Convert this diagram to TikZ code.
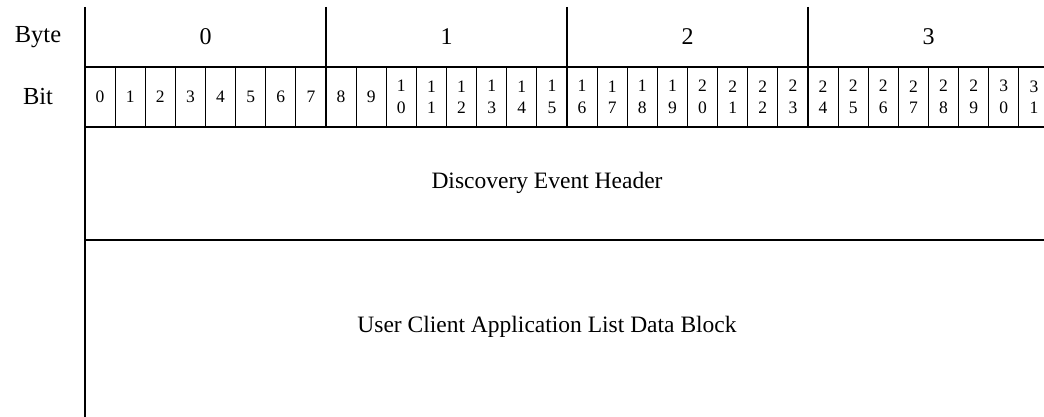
\documentclass[tikz,border=0pt]{standalone}
\usepackage{fontspec}
\setmainfont{Liberation Serif}
\begin{document}
\begin{tikzpicture}[x=1pt,y=1pt,
  mainline/.style={line width=2pt},
  bitline/.style={line width=1pt},
  lbl/.style={font=\fontsize{24.5}{28}\selectfont, inner sep=0pt},
  bytenum/.style={font=\fontsize{24}{28}\selectfont, inner sep=0pt},
  bitnum/.style={font=\fontsize{17.5}{21.5}\selectfont, inner sep=0pt, align=center},
  field/.style={font=\fontsize{23.5}{28}\selectfont, inner sep=0pt}]
\useasboundingbox (0,0) rectangle (1044,-417);
% grid coordinates
\coordinate (tl) at (85,-7);
\coordinate (bl) at (85,-417);
% left main line
\draw[mainline] (tl) -- (bl);
% horizontal lines
\draw[mainline] (85,-67) -- (1044,-67);
\draw[mainline] (85,-127) -- (1044,-127);
\draw[mainline] (85,-240) -- (1044,-240);
% byte dividers
\foreach \b in {1,2,3} {
  \draw[mainline] ({85+241*\b},-7) -- ({85+241*\b},-127);
}
% bit dividers
\foreach \i in {1,...,31} {
  \pgfmathtruncatemacro{\m}{mod(\i,8)}
  \ifnum\m=0\relax\else
    \draw[bitline] ({85+30.125*\i},-67) -- ({85+30.125*\i},-127);
  \fi
}
% labels
\node[lbl] (byte) at (38,-37) {Byte};
\node[lbl] (bit) at (38,-97) {Bit};
\foreach \b in {0,1,2,3} {
  \node[bytenum] (byte\b) at ({85+241*\b+120.5},-37) {\b};
}
\foreach \i in {0,...,9} {
  \node[bitnum] (bit\i) at ({85+30.125*\i+15.06},-97) {\i};
}
\foreach \i in {10,...,31} {
  \pgfmathtruncatemacro{\t}{div(\i,10)}
  \pgfmathtruncatemacro{\u}{mod(\i,10)}
  \node[bitnum] (bit\i) at ({85+30.125*\i+15.06},-97) {\t\\\u};
}
\node[field] (hdr) at (547,-183) {Discovery Event Header};
\node[field] (data) at (547,-327) {User Client Application List Data Block};
\end{tikzpicture}
\end{document}
